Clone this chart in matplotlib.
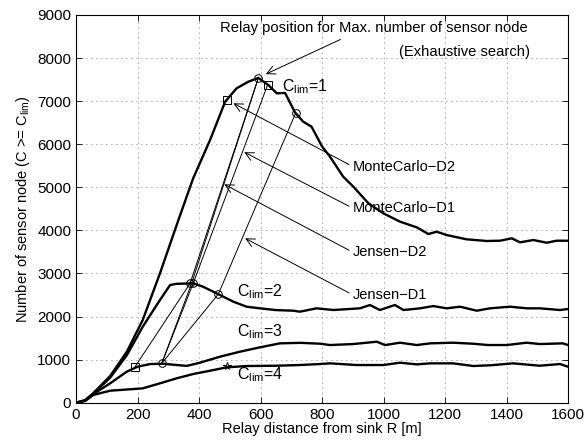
import matplotlib
matplotlib.use("Agg")
import matplotlib.pyplot as plt

plt.rcParams["font.family"] = ["Liberation Sans", "DejaVu Sans"]
plt.rcParams["mathtext.default"] = "regular"

# C_lim = 1 .. 4 curves: relay distance R [m] vs number of sensor nodes
c1_r = [0, 30, 56, 111, 165, 217, 273, 333, 381, 436, 485, 522, 560, 593, 626, 653, 680,
        712, 739, 766, 800, 826, 869, 902, 951, 999, 1054, 1108, 1146, 1173, 1205, 1270,
        1336, 1379, 1417, 1444, 1487, 1531, 1563, 1600]
c1_n = [0, 60, 220, 620, 1180, 1920, 3003, 4241, 5209, 6098, 6987, 7297, 7450, 7540, 7370,
        7182, 7190, 6740, 6523, 6407, 5950, 5710, 5246, 5014, 4629, 4397, 4202, 4071, 3916,
        3970, 3893, 3793, 3754, 3761, 3816, 3723, 3777, 3714, 3761, 3760]

c2_r = [0, 30, 56, 111, 165, 217, 273, 306, 327, 381, 413, 468, 512, 555, 598, 650, 707,
        728, 782, 837, 923, 956, 988, 1037, 1065, 1119, 1162, 1205, 1249, 1303, 1346, 1411,
        1466, 1508, 1574, 1600]
c2_n = [0, 55, 210, 580, 1100, 1764, 2384, 2732, 2760, 2771, 2693, 2500, 2344, 2228, 2191,
        2150, 2136, 2113, 2191, 2152, 2191, 2268, 2152, 2268, 2152, 2191, 2244, 2191, 2229,
        2136, 2191, 2229, 2191, 2191, 2152, 2175]

c3_r = [0, 30, 56, 111, 165, 200, 241, 284, 320, 360, 403, 468, 533, 598, 663, 730, 793,
        826, 902, 978, 1005, 1054, 1108, 1152, 1226, 1290, 1340, 1401, 1465, 1508, 1583, 1600]
c3_n = [0, 50, 200, 450, 720, 836, 898, 905, 880, 855, 929, 1068, 1184, 1285, 1378, 1390,
        1370, 1339, 1362, 1416, 1339, 1393, 1339, 1378, 1393, 1370, 1339, 1339, 1393, 1362,
        1378, 1339]

c4_r = [0, 30, 56, 111, 217, 273, 327, 381, 436, 490, 555, 653, 728, 793, 826, 912, 999,
        1054, 1108, 1152, 1226, 1292, 1350, 1421, 1508, 1574, 1600]
c4_n = [0, 40, 180, 279, 333, 450, 566, 666, 743, 821, 852, 859, 875, 898, 914, 875, 875,
        929, 890, 914, 914, 852, 870, 914, 859, 898, 836]

# optimal relay positions found by each method, for C_lim = 1, 2, 3
jensen_d2_r = [593, 371, 192]
jensen_d2_n = [7540, 2771, 836]
exh_r = [593, 376, 279]
exh_n = [7540, 2771, 915]
mc_d1_r = [623, 381, 279]
mc_d1_n = [7375, 2771, 915]
jensen_d1_r = [714, 463, 279]
jensen_d1_n = [6718, 2523, 915]
c4_best_r = [490]
c4_best_n = [850]

fig = plt.figure(figsize=(5.86, 4.41), dpi=100)
ax = fig.add_axes([0.1297, 0.0868, 0.8396, 0.8792])

for r, n in [(c1_r, c1_n), (c2_r, c2_n), (c3_r, c3_n), (c4_r, c4_n)]:
    ax.plot(r, n, color="black", lw=1.7, zorder=3, solid_joinstyle="round")

thin = dict(color="black", lw=0.7, zorder=4)
ax.plot(jensen_d2_r, jensen_d2_n, **thin)
ax.plot(exh_r, exh_n, **thin)
ax.plot(mc_d1_r, mc_d1_n, **thin)
ax.plot(jensen_d1_r, jensen_d1_n, **thin)

mk = dict(ls="none", mfc="none", mec="black", mew=0.7, ms=5.5, zorder=5)
ax.plot([593, 714, 371, 381, 463, 279], [7540, 6718, 2771, 2771, 2523, 915], marker="o", **mk)
ax.plot([623, 490, 192], [7375, 7027, 836], marker="s", **mk)
ax.plot(c4_best_r, c4_best_n, marker="*", **mk)

arrow = dict(arrowstyle="->", color="black", lw=0.7, relpos=(0, 0.5),
             shrinkA=1, shrinkB=0, mutation_scale=15)
ax.annotate("MonteCarlo\u2212D2", xy=(512, 6950), xytext=(901, 5478),
            ha="left", va="center", fontsize=10.5, arrowprops=arrow)
ax.annotate("MonteCarlo\u2212D1", xy=(547, 5815), xytext=(901, 4513),
            ha="left", va="center", fontsize=10.5, arrowprops=arrow)
ax.annotate("Jensen\u2212D2", xy=(482, 5070), xytext=(901, 3491),
            ha="left", va="center", fontsize=10.5, arrowprops=arrow)
ax.annotate("Jensen\u2212D1", xy=(550, 3816), xytext=(901, 2500),
            ha="left", va="center", fontsize=10.5, arrowprops=arrow)

ax.annotate("", xy=(609, 7600), xytext=(868, 8459),
            arrowprops=dict(arrowstyle="->", color="black", lw=0.7, mutation_scale=15))
ax.text(468, 8698, "Relay position for Max. number of sensor node",
        ha="left", va="center", fontsize=10.6)
ax.text(1475, 8141, "(Exhaustive search)", ha="right", va="center", fontsize=10.6)

ax.text(669, 7335, "C$_{lim}$=1", ha="left", va="center", fontsize=11.5)
ax.text(522, 2577, "C$_{lim}$=2", ha="left", va="center", fontsize=11.5)
ax.text(522, 1648, "C$_{lim}$=3", ha="left", va="center", fontsize=11.5)
ax.text(522, 643, "C$_{lim}$=4", ha="left", va="center", fontsize=11.5)

ax.set_xlim(0, 1600)
ax.set_ylim(0, 9000)
ax.set_xticks(range(0, 1601, 200))
ax.set_yticks(range(0, 9001, 1000))
ax.tick_params(direction="in", top=True, right=True, labelsize=11, length=4, width=0.6)
ax.grid(True, ls=(0, (1, 5)), color="#555555", lw=0.6)
for s in ax.spines.values():
    s.set_linewidth(0.8)

ax.set_xlabel("Relay distance from sink R [m]", fontsize=10.5, labelpad=0)
ax.set_ylabel("Number of sensor node (C >= C$_{lim}$)", fontsize=10.5, labelpad=4)

fig.savefig("out.png", dpi=100)
